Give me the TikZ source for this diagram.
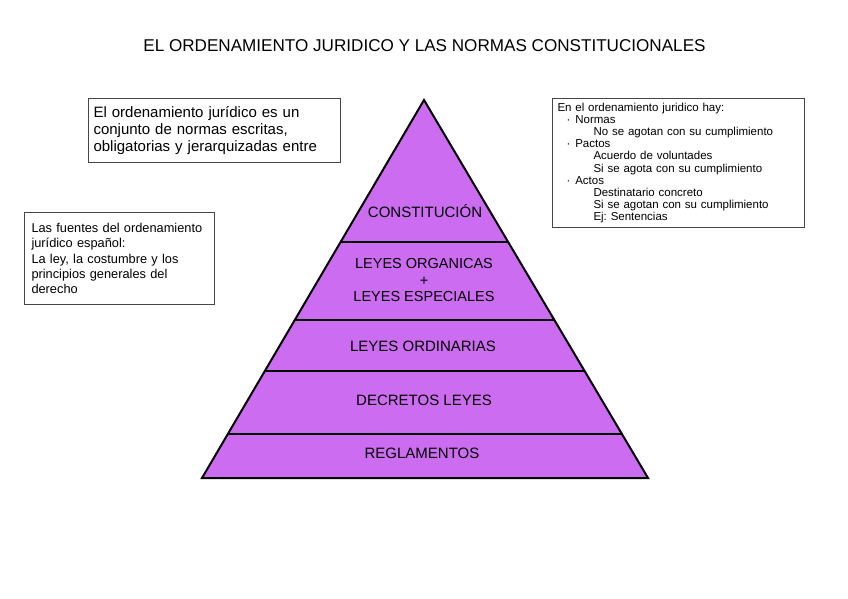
\documentclass[tikz,border=0pt]{standalone}
\usepackage{fontspec}
\setmainfont{Liberation Sans}
\usetikzlibrary{calc}
\frenchspacing
\definecolor{pyr}{RGB}{204,108,240}
\definecolor{boxline}{RGB}{70,70,70}
\begin{document}
\begin{tikzpicture}[x=1pt,y=-1pt,
  infobox/.style={draw=boxline, line width=1pt, anchor=north west, align=left, inner ysep=0pt},
  lvl/.style={anchor=base, font=\fontsize{15}{18}\selectfont},
  tier/.style={draw=black, line width=1.4pt}]
\useasboundingbox[fill=white] (0,0) rectangle (848,599);
% title
\node[font=\fontsize{17.1}{20}\selectfont] (title) at (424.5,46) {EL ORDENAMIENTO JURIDICO Y LAS NORMAS CONSTITUCIONALES};
% info boxes
\node[infobox, inner xsep=5pt, text width=242pt, minimum height=64pt,
      font=\fontsize{15}{17}\selectfont] (def) at (88,98)
  {El ordenamiento jurídico es un\\conjunto de normas escritas,\\obligatorias y jerarquizadas entre};
\node[infobox, inner xsep=7pt, text width=176pt, minimum height=92pt,
      font=\fontsize{12.8}{15.3}\selectfont] (fuentes) at (24,212)
  {Las fuentes del ordenamiento\\jurídico español:\\La ley, la costumbre y los\\principios generales del\\derecho};
\node[infobox, inner xsep=5pt, text width=242pt, minimum height=129pt,
      font=\fontsize{11.5}{12.1}\selectfont] (hay) at (552,98)
  {En el ordenamiento juridico hay:\\
   \hspace*{9pt}·\hspace{5pt}Normas\\
   \hspace*{36pt}No se agotan con su cumplimiento\\
   \hspace*{9pt}·\hspace{5pt}Pactos\\
   \hspace*{36pt}Acuerdo de voluntades\\
   \hspace*{36pt}Si se agota con su cumplimiento\\
   \hspace*{9pt}·\hspace{5pt}Actos\\
   \hspace*{36pt}Destinatario concreto\\
   \hspace*{36pt}Si se agotan con su cumplimiento\\
   \hspace*{36pt}Ej: Sentencias};
% pyramid
\coordinate (apex) at (424,100);
\coordinate (bl) at (202,478);
\coordinate (br) at (648,478);
\filldraw[fill=pyr, draw=black, line width=2pt, line join=miter] (apex) -- (br) -- (bl) -- cycle;
\coordinate (l1) at ($(apex)!0.3757!(bl)$);
\coordinate (r1) at ($(apex)!0.3757!(br)$);
\coordinate (l2) at ($(apex)!0.5820!(bl)$);
\coordinate (r2) at ($(apex)!0.5820!(br)$);
\coordinate (l3) at ($(apex)!0.7169!(bl)$);
\coordinate (r3) at ($(apex)!0.7169!(br)$);
\coordinate (l4) at ($(apex)!0.8836!(bl)$);
\coordinate (r4) at ($(apex)!0.8836!(br)$);
\draw[tier] (l1) -- (r1);
\draw[tier] (l2) -- (r2);
\draw[tier] (l3) -- (r3);
\draw[tier] (l4) -- (r4);
% labels
\node[lvl] (constitucion) at (425,217.4) {CONSTITUCIÓN};
\node[align=center, font=\fontsize{14.5}{16.5}\selectfont] (organicas) at (424,280.5)
  {LEYES ORGANICAS\\+\\LEYES ESPECIALES};
\node[lvl] (ordinarias) at (423,351.4) {LEYES ORDINARIAS};
\node[lvl] (decretos) at (424,405.4) {DECRETOS LEYES};
\node[lvl] (reglamentos) at (422,458.4) {REGLAMENTOS};
\end{tikzpicture}
\end{document}
